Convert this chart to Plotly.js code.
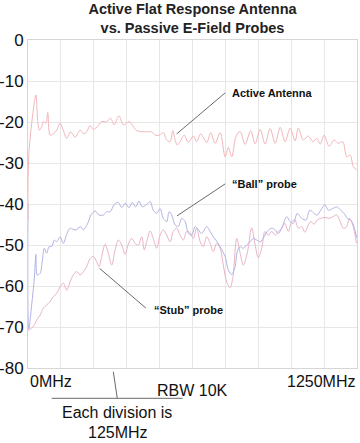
<!DOCTYPE html>
<html>
<head>
<meta charset="utf-8">
<script src="https://cdn.plot.ly/plotly-3.0.1.min.js"></script>
<style>
html,body{margin:0;padding:0;background:#fff;}
#chart{width:360px;height:443px;}
</style>
</head>
<body>
<div id="chart"></div>
<script>
// Frequency (MHz) and level (dB)
const activeFreq = [0,2,14,30,37,43,52,58,68,75,84,96,109,122,134,147,162,179,198,210,220,236,248,267,280,299,314,327,346,362,385,400,413,451,470,483,499,514,527,540,550,559,567,578,593,609,628,641,656,679,694,711,730,749,761,774,790,806,825,846,863,882,901,920,939,958,977,996,1015,1027,1046,1065,1082,1097,1110,1125,1144,1163,1179,1196,1211,1224,1236,1249];
const activeLevel = [-44,-29.3,-20.3,-13.4,-19.9,-22.0,-21.1,-19.9,-20.3,-17.7,-23.2,-22.9,-22.0,-20.3,-22.0,-24.0,-22.4,-23.7,-22.0,-22.8,-22.7,-20.9,-21.8,-20.9,-19.9,-19.9,-19.1,-20.7,-18.5,-20.7,-19.9,-21.1,-22.1,-22.4,-22.4,-23.2,-23.2,-22.6,-24.4,-24.8,-22.1,-24.4,-25.6,-24.8,-23.2,-25.0,-23.4,-24.8,-22.9,-25.0,-22.6,-25.2,-22.6,-28.5,-26.2,-28.5,-23.6,-22.3,-25.5,-22.1,-25.3,-21.8,-25.4,-21.6,-25.2,-21.3,-24.8,-21.5,-24.6,-21.5,-24.4,-23.4,-24.8,-24.0,-25.4,-23.2,-25.9,-24.4,-25.2,-24.8,-28.5,-28.0,-30.9,-31.7];

const ballFreq = [0,3,14,24,30,35,46,54,62,71,80,90,100,109,122,134,147,160,172,185,198,210,227,239,255,270,286,299,312,328,343,356,369,384,396,409,422,434,451,464,476,489,502,514,527,536,546,559,571,584,597,609,622,635,647,660,679,692,704,723,736,749,761,774,787,795,806,818,831,844,856,869,884,897,909,926,939,951,964,983,996,1008,1023,1040,1056,1071,1087,1099,1112,1128,1141,1158,1173,1188,1201,1213,1226,1236,1249];
const ballLevel = [-40,-70.5,-64.6,-58.1,-52.3,-57.3,-56.9,-54.1,-50.8,-52.0,-50.4,-50.4,-48.8,-49.2,-48.0,-49.6,-47.4,-45.9,-46.2,-46.3,-45.5,-46.3,-44.7,-42.7,-41.7,-42.7,-42.7,-41.9,-41.9,-40.1,-39.6,-40.9,-39.8,-40.9,-39.6,-40.7,-39.3,-40.7,-40.1,-39.4,-41.5,-42.3,-41.1,-43.5,-44.3,-41.9,-42.7,-45.1,-45.5,-43.5,-44.3,-47.1,-47.6,-45.5,-46.3,-47.2,-45.5,-46.7,-48.0,-49.6,-51.2,-52.8,-56.1,-57.2,-55.3,-51.6,-50.4,-50.8,-50.0,-49.2,-48.4,-48.8,-49.2,-48.0,-46.7,-45.9,-46.3,-47.2,-45.9,-43.1,-44.3,-44.7,-42.3,-43.5,-43.9,-41.5,-42.3,-42.7,-41.5,-40.2,-41.5,-41.1,-40.7,-41.5,-42.3,-43.5,-43.9,-45.1,-48.2];

const stubFreq = [0,1,14,27,37,46,58,71,84,96,109,122,134,147,160,172,185,198,210,223,236,248,261,270,280,293,305,318,331,343,356,369,381,394,407,419,432,442,451,464,476,489,502,514,527,540,552,565,578,590,603,616,628,641,654,666,679,692,704,717,730,742,755,768,778,793,806,818,833,850,863,875,888,900,912,926,939,951,964,976,989,1002,1014,1027,1040,1052,1065,1074,1087,1099,1112,1128,1145,1158,1173,1185,1198,1211,1221,1234,1248];
const stubLevel = [-30,-70.7,-70.3,-69.1,-67.9,-67.1,-65.4,-64.6,-63.8,-62.6,-61.8,-60.2,-59.3,-61.0,-59.0,-57.3,-56.5,-57.3,-56.5,-55.3,-53.3,-52.8,-54.1,-55.3,-52.8,-49.8,-52.0,-54.9,-51.2,-48.8,-50.0,-52.3,-49.8,-48.4,-49.6,-50.0,-48.0,-51.2,-49.2,-46.6,-48.4,-50.8,-47.6,-46.3,-47.6,-49.2,-46.7,-45.9,-47.6,-48.8,-46.7,-47.0,-48.4,-45.9,-49.2,-50.4,-48.0,-49.6,-51.6,-49.6,-50.8,-54.9,-59.0,-60.4,-58.1,-48.4,-52.0,-54.9,-52.0,-45.8,-50.0,-53.1,-50.8,-46.7,-47.6,-46.7,-47.6,-46.7,-45.9,-44.7,-46.7,-44.3,-43.9,-45.9,-45.5,-46.9,-45.1,-44.3,-44.9,-43.9,-43.5,-43.3,-43.5,-43.1,-42.7,-44.1,-45.9,-45.5,-43.5,-45.1,-49.6];

const yTickVals = [0,-10,-20,-30,-40,-50,-60,-70,-80];
const yTickText = ["0","-10","-20","-30","-40","-50","-60","-70","-80"];
const xTickLabels = ["0MHz","1250MHz"];
const xTickVals = [0,1250];

const FONT = "Liberation Sans, Arial, sans-serif";

function tr(x, y, color) {
  return {x: x, y: y, type: "scatter", mode: "lines",
    line: {color: color, width: 1, shape: "spline", smoothing: 0.9},
    hoverinfo: "skip", showlegend: false};
}

const data = [
  tr(stubFreq, stubLevel, "#e9b3c7"),
  tr(ballFreq, ballLevel, "#b3b3e3"),
  tr(activeFreq, activeLevel, "#f3b6ba")
];

const leader = "#6a6a6a";
const layout = {
  width: 360, height: 443,
  margin: {l: 28, r: 3, t: 40, b: 75},
  paper_bgcolor: "#fff", plot_bgcolor: "#fff",
  font: {family: FONT, color: "#111"},
  title: {text: "<b>Active Flat Response Antenna<br>vs. Passive E-Field Probes</b>",
    font: {family: FONT, size: 14.5, color: "#222"},
    x: 0.5, xref: "paper", xanchor: "center", y: 1 - 14/443, yref: "container", yanchor: "middle"},
  xaxis: {range: [0, 1250], dtick: 125, tick0: 0, showticklabels: false, ticks: "",
    showgrid: true, gridcolor: "#e7e7e7", gridwidth: 1,
    showline: true, linecolor: "#d6d6d6", linewidth: 1, mirror: true, zeroline: false, fixedrange: true},
  yaxis: {range: [-80, 0], tickvals: yTickVals, ticktext: yTickText, ticks: "",
    tickfont: {family: FONT, size: 17, color: "#111"},
    showgrid: true, gridcolor: "#e7e7e7", gridwidth: 1,
    showline: true, linecolor: "#d6d6d6", linewidth: 1, mirror: true, zeroline: false, fixedrange: true},
  shapes: [
    {type: "line", xref: "x", yref: "y", x0: 749, y0: -12.9, x1: 565, y1: -22.9, line: {color: leader, width: 1}},
    {type: "line", xref: "x", yref: "y", x0: 749, y0: -35.1, x1: 566, y1: -42.9, line: {color: leader, width: 1}},
    {type: "line", xref: "x", yref: "y", x0: 448, y0: -65.4, x1: 272, y1: -55.7, line: {color: leader, width: 1}},
    {type: "line", xref: "paper", yref: "paper", x0: 0.2593, y0: -0.0113, x1: 0.2714, y1: -0.0924, line: {color: leader, width: 1}},
    {type: "line", xref: "paper", yref: "paper", x0: 0.072, y0: -0.0924, x1: 0.470, y1: -0.0924, line: {color: leader, width: 1}}
  ],
  annotations: [
    {text: "<b>Active Antenna</b>", xref: "x", yref: "y", x: 767, y: -12.9, xanchor: "left", yanchor: "middle", showarrow: false, font: {family: FONT, size: 11, color: "#111"}},
    {text: "<b>“Ball” probe</b>", xref: "x", yref: "y", x: 767, y: -35.0, xanchor: "left", yanchor: "middle", showarrow: false, font: {family: FONT, size: 11, color: "#111"}},
    {text: "<b>“Stub” probe</b>", xref: "x", yref: "y", x: 470, y: -65.9, xanchor: "left", yanchor: "middle", showarrow: false, font: {family: FONT, size: 11, color: "#111"}},
    {text: xTickLabels[0], xref: "x", yref: "paper", x: xTickVals[0], y: -0.042, xanchor: "left", yanchor: "middle", showarrow: false, font: {family: FONT, size: 16, color: "#111"}},
    {text: xTickLabels[1], xref: "x", yref: "paper", x: xTickVals[1], y: -0.042, xanchor: "right", yanchor: "middle", showarrow: false, font: {family: FONT, size: 16, color: "#111"}},
    {text: "RBW 10K", xref: "paper", yref: "paper", x: 0.4985, y: -0.068, xanchor: "center", yanchor: "middle", showarrow: false, font: {family: FONT, size: 16, color: "#111"}},
    {text: "Each division is", xref: "paper", yref: "paper", x: 0.2705, y: -0.137, xanchor: "center", yanchor: "middle", showarrow: false, font: {family: FONT, size: 16, color: "#111"}},
    {text: "125MHz", xref: "paper", yref: "paper", x: 0.2736, y: -0.197, xanchor: "center", yanchor: "middle", showarrow: false, font: {family: FONT, size: 16, color: "#111"}}
  ]
};

Plotly.newPlot("chart", data, layout, {staticPlot: true, displayModeBar: false});
</script>
</body>
</html>
